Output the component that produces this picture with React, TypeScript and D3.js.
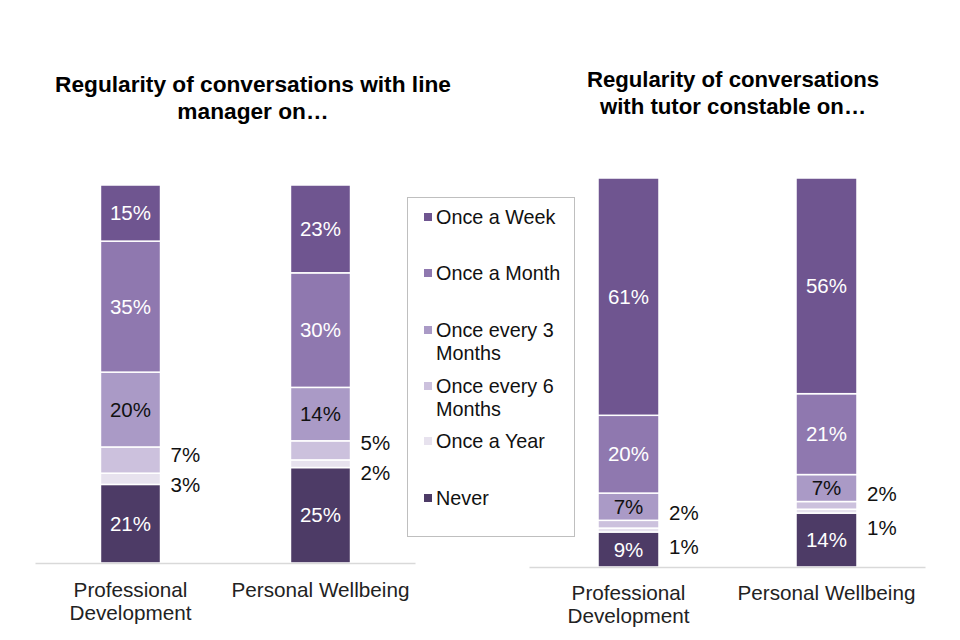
import React from "react";
import * as d3 from "d3";

const categories = ["Professional Development", "Personal Wellbeing"];
const categoryLines = [["Professional", "Development"], ["Personal Wellbeing"]];

const seriesNames = ["Once a Week", "Once a Month", "Once every 3 Months", "Once every 6 Months", "Once a Year", "Never"];
const legendLines = [["Once a Week"], ["Once a Month"], ["Once every 3", "Months"], ["Once every 6", "Months"], ["Once a Year"], ["Never"]];
const colors = ["#6F5590", "#8F78AF", "#AA9AC6", "#CCC1DD", "#E7E2EE", "#4D3B66"];
const labelColors = ["#ffffff", "#ffffff", "#111111", null, null, "#ffffff"];

// Line manager chart values (per series, per category)
const lmWeek = [15, 23];
const lmMonth = [35, 30];
const lm3Months = [20, 14];
const lm6Months = [7, 5];
const lmYear = [3, 2];
const lmNever = [21, 25];

// Tutor constable chart values
const tcWeek = [61, 56];
const tcMonth = [20, 21];
const tc3Months = [7, 7];
const tc6Months = [2, 2];
const tcYear = [1, 1];
const tcNever = [9, 14];

const lmTitle = ["Regularity of conversations with line", "manager on\u2026"];
const tcTitle = ["Regularity of conversations", "with tutor constable on\u2026"];

const FONT = "'Liberation Sans', Arial, sans-serif";

type Cfg = {
  values: number[][]; // in seriesNames order
  x0: number; x1: number; yTop: number; yBase: number;
  bandPad: number;
  title: string[]; titleX: number; titleY: number; titleSize: number;
  catY: number; outGap: number;
};

function Chart({ cfg }: { cfg: Cfg }) {
  const stackOrder = [5, 4, 3, 2, 1, 0]; // bottom to top: Never .. Once a Week
  const rows = categories.map((c, ci) => {
    const r: any = { cat: c };
    seriesNames.forEach((s, si) => (r[s] = cfg.values[si][ci]));
    return r;
  });
  const stack = d3.stack<any>()
    .keys(stackOrder.map((i) => seriesNames[i]))
    .offset(d3.stackOffsetExpand);
  const layers = stack(rows);
  const x = d3.scaleBand().domain(categories).range([cfg.x0, cfg.x1])
    .paddingInner(cfg.bandPad).paddingOuter(cfg.bandPad / 2);
  const y = d3.scaleLinear().domain([0, 1]).range([cfg.yBase, cfg.yTop]);
  const bw = x.bandwidth();

  const els: React.ReactNode[] = [];
  layers.forEach((layer, li) => {
    const si = stackOrder[li];
    layer.forEach((d, ci) => {
      const cat = categories[ci];
      const xx = x(cat)!;
      const yt = y(d[1]);
      const yb = y(d[0]);
      els.push(
        <rect key={`r${si}-${ci}`} x={xx} y={yt} width={bw} height={Math.max(0, yb - yt)}
          fill={colors[si]} stroke="#ffffff" strokeWidth={1.5} />
      );
      const lc = labelColors[si];
      if (lc) {
        els.push(
          <text key={`t${si}-${ci}`} x={xx + bw / 2} y={(yt + yb) / 2} dy="0.35em" textAnchor="middle"
            fill={lc} fontSize={20.5} fontFamily={FONT}>{cfg.values[si][ci]}%</text>
        );
      }
    });
  });
  // outside labels for small segments (6 months, year)
  const l6 = layers[2];
  const lY = layers[1];
  categories.forEach((cat, ci) => {
    const top = y(l6[ci][1]);
    const bot = y(lY[ci][0]);
    const mid = (top + bot) / 2 + 4;
    const xx = x(cat)! + bw + 10;
    els.push(
      <text key={`o6-${ci}`} x={xx} y={mid - cfg.outGap} dy="0.35em" fill="#111" fontSize={20.5} fontFamily={FONT}>{cfg.values[3][ci]}%</text>
    );
    els.push(
      <text key={`oy-${ci}`} x={xx} y={mid + cfg.outGap} dy="0.35em" fill="#111" fontSize={20.5} fontFamily={FONT}>{cfg.values[4][ci]}%</text>
    );
  });

  return (
    <g>
      {cfg.title.map((t, i) => (
        <text key={`ti${i}`} x={cfg.titleX} y={cfg.titleY + i * 27} textAnchor="middle" fontWeight="bold"
          fontSize={cfg.titleSize} fontFamily={FONT} fill="#000">{t}</text>
      ))}
      {els}
      <line x1={cfg.x0} x2={cfg.x1} y1={cfg.yBase + 0.5} y2={cfg.yBase + 0.5} stroke="#D9D9D9" strokeWidth={1.5} />
      {categories.map((cat, ci) => (
        <text key={`c${ci}`} x={x(cat)! + bw / 2} y={cfg.catY} textAnchor="middle" fontSize={20.7} fontFamily={FONT} fill="#222">
          {categoryLines[ci].map((ln, li) => (
            <tspan key={li} x={x(cat)! + bw / 2} dy={li === 0 ? 0 : 23}>{ln}</tspan>
          ))}
        </text>
      ))}
    </g>
  );
}

function Legend() {
  const entryY = [217, 273, 330, 386, 441, 498];
  return (
    <g>
      <rect x={407.5} y={197.5} width={167} height={339} fill="#fff" stroke="#BFBFBF" strokeWidth={1} />
      {seriesNames.map((s, i) => (
        <g key={s}>
          <rect x={424} y={entryY[i] - 4} width={8} height={8} fill={colors[i]} />
          <text x={436} y={entryY[i]} fontSize={19.8} fontFamily={FONT} fill="#111">
            {legendLines[i].map((ln, li) => (
              <tspan key={li} x={436} dy={li === 0 ? "0.35em" : 23}>{ln}</tspan>
            ))}
          </text>
        </g>
      ))}
    </g>
  );
}

export default function App() {
  const lm: Cfg = {
    values: [lmWeek, lmMonth, lm3Months, lm6Months, lmYear, lmNever],
    x0: 35.5, x1: 415.5, yTop: 185, yBase: 563, bandPad: 0.684,
    title: lmTitle, titleX: 253, titleY: 92, titleSize: 22.7, catY: 597, outGap: 15,
  };
  const tc: Cfg = {
    values: [tcWeek, tcMonth, tc3Months, tc6Months, tcYear, tcNever],
    x0: 529.5, x1: 925.5, yTop: 178, yBase: 567, bandPad: 0.692,
    title: tcTitle, titleX: 733, titleY: 87, titleSize: 22.2, catY: 600, outGap: 17,
  };
  return (
    <svg width={960} height={640} style={{ position: "absolute", left: 0, top: 0, background: "#fff" }}>
      <rect x={0} y={0} width={960} height={640} fill="#fff" />
      <Chart cfg={lm} />
      <Chart cfg={tc} />
      <Legend />
    </svg>
  );
}
